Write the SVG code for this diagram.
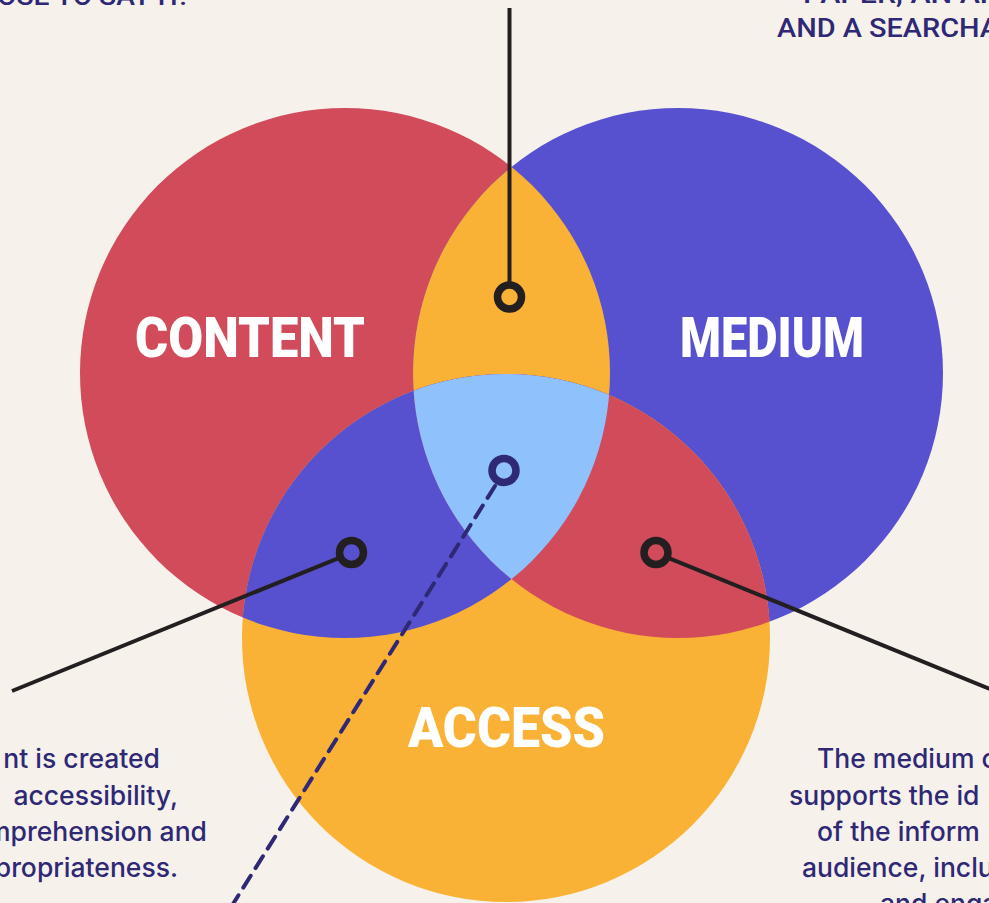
<svg xmlns="http://www.w3.org/2000/svg" width="989" height="903" viewBox="0 0 989 903">
  <defs>
    <clipPath id="clipContent"><circle cx="345" cy="373" r="265"/></clipPath>
    <clipPath id="clipMedium"><circle cx="678" cy="373" r="265"/></clipPath>
    <clipPath id="clipAccess"><circle cx="506" cy="638" r="264"/></clipPath>
    <style>
      .label { font-family: Roboto, "Liberation Sans", sans-serif; font-weight: 900; font-size: 55px; fill: #ffffff; }
      .body { font-family: Inter, "Liberation Sans", sans-serif; font-weight: 500; font-size: 26.5px; fill: #2E2875; }
      .caps { font-family: Roboto, "Liberation Sans", sans-serif; font-weight: 500; font-size: 25px; fill: #2E2875; }
      .lead { stroke: #231F20; stroke-width: 4; fill: none; }
      .ring { stroke: #231F20; stroke-width: 7.5; fill: none; }
      .dash { stroke: #2E2875; stroke-width: 4; fill: none; stroke-dasharray: 14 9; stroke-linecap: round; }
      .ringNavy { stroke: #2E2875; stroke-width: 7.5; fill: none; }
    </style>
  </defs>

  <rect width="989" height="903" fill="#F6F2EB"/>

  <!-- three sets -->
  <g id="content"><circle cx="345" cy="373" r="265" fill="#D14B5B"/></g>
  <g id="medium"><circle cx="678" cy="373" r="265" fill="#5851CF"/></g>
  <g id="access"><circle cx="506" cy="638" r="264" fill="#F9B236"/></g>

  <!-- pairwise overlaps take the colour of the third set -->
  <g id="content-medium" clip-path="url(#clipContent)"><circle cx="678" cy="373" r="265" fill="#F9B236"/></g>
  <g id="content-access" clip-path="url(#clipContent)"><circle cx="506" cy="638" r="264" fill="#5851CF"/></g>
  <g id="medium-access" clip-path="url(#clipMedium)"><circle cx="506" cy="638" r="264" fill="#D14B5B"/></g>
  <g id="center" clip-path="url(#clipContent)">
    <g clip-path="url(#clipMedium)"><circle cx="506" cy="638" r="264" fill="#8FC1FD"/></g>
  </g>

  <!-- set labels -->
  <text class="label" x="135" y="357" textLength="230" lengthAdjust="spacingAndGlyphs">CONTENT</text>
  <text class="label" x="680" y="357" textLength="184" lengthAdjust="spacingAndGlyphs">MEDIUM</text>
  <text class="label" x="408" y="747" textLength="197" lengthAdjust="spacingAndGlyphs">ACCESS</text>

  <!-- callout leaders -->
  <g id="connectors">
    <line class="lead" x1="509.5" y1="8" x2="509.5" y2="285"/>
    <circle class="ring" cx="509.5" cy="297" r="12"/>
    <line class="lead" x1="340.5" y1="557.3" x2="12" y2="691"/>
    <circle class="ring" cx="351.5" cy="552.5" r="12"/>
    <line class="lead" x1="667" y1="557.3" x2="995" y2="691"/>
    <circle class="ring" cx="656" cy="552.5" r="12"/>
    <line class="dash" x1="495" y1="486" x2="228" y2="912"/>
    <circle class="ringNavy" cx="504" cy="470.5" r="12"/>
  </g>

  <!-- descriptions -->
  <g id="note-top-left">
    <text class="caps" x="-3" y="5" textLength="190" lengthAdjust="spacingAndGlyphs">OSE TO SAY IT.</text>
  </g>
  <g id="note-top-right">
    <text class="caps" x="803" y="3" textLength="196" lengthAdjust="spacingAndGlyphs">PAPER, AN AR</text>
    <text class="caps" x="777" y="37" textLength="222" lengthAdjust="spacingAndGlyphs">AND A SEARCHA</text>
  </g>
  <g id="note-left">
    <text class="body" x="160" y="768" text-anchor="end">nt is created</text>
    <text class="body" x="178" y="805" text-anchor="end">accessibility,</text>
    <text class="body" x="207" y="841" text-anchor="end">mprehension and</text>
    <text class="body" x="178" y="877" text-anchor="end">propriateness.</text>
  </g>
  <g id="note-right">
    <text class="body" x="817" y="768">The medium c</text>
    <text class="body" x="789" y="805">supports the id</text>
    <text class="body" x="817" y="841">of the inform</text>
    <text class="body" x="802" y="877">audience, inclu</text>
    <text class="body" x="880" y="913">and enga</text>
  </g>
</svg>
